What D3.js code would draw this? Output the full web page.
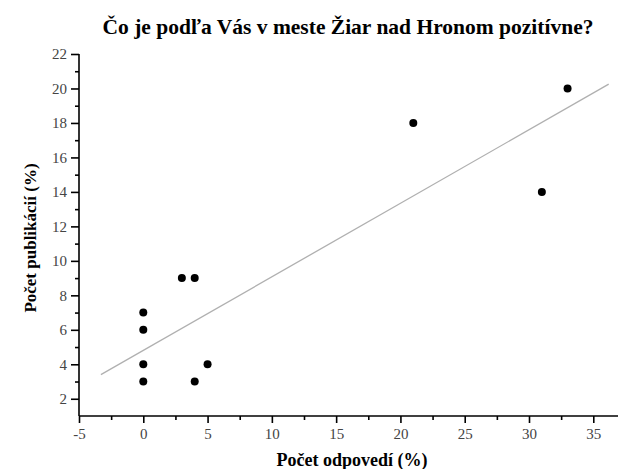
<!DOCTYPE html>
<html><head><meta charset="utf-8">
<script src="https://cdn.jsdelivr.net/npm/d3@7"></script>
<style>body{margin:0;background:#fff} svg text{font-family:"Liberation Serif","Times New Roman",serif !important}</style>
</head><body>
<svg id="c" width="618" height="469"></svg>
<script>
const xs = [0, 0, 0, 0, 5, 4, 3, 4, 21, 33, 31];
const ys = [7, 6, 4, 3, 4, 3, 9, 9, 18, 20, 14];
const fitX = [-3.3, 36.2];
const fitY = [3.4, 20.25];
const xTicks = [-5, 0, 5, 10, 15, 20, 25, 30, 35];
const yTicks = [2, 4, 6, 8, 10, 12, 14, 16, 18, 20, 22];
const title = "Čo je podľa Vás v meste Žiar nad Hronom pozitívne?";
const xTitle = "Počet odpovedí (%)";
const yTitle = "Počet publikácií (%)";

const svg = d3.select("#c");
const x = d3.scaleLinear().domain([-5, 37]).range([79, 619]);
const y = d3.scaleLinear().domain([1, 22]).range([416, 54]);
const fmt = d => String(d);

// regression line
svg.append("line")
  .attr("x1", x(fitX[0])).attr("y1", y(fitY[0]))
  .attr("x2", x(fitX[1])).attr("y2", y(fitY[1]))
  .attr("stroke", "#b0b0b0").attr("stroke-width", 1.3);

// points
svg.selectAll("circle.p").data(xs.map((v, i) => [v, ys[i]])).enter()
  .append("circle").attr("class", "p")
  .attr("cx", d => x(d[0])).attr("cy", d => y(d[1])).attr("r", 4)
  .attr("fill", "#000");

// axes
const xMinor = d3.range(-2.5, 37, 5);
const yMinor = d3.range(3, 22, 2);
const gx = svg.append("g").attr("transform", "translate(0,416)");
gx.call(d3.axisBottom(x).tickValues(xTicks).tickSize(7).tickPadding(5).tickFormat(fmt));
gx.append("g").call(d3.axisBottom(x).tickValues(xMinor).tickSize(4).tickFormat(""))
  .select(".domain").remove();
const gy = svg.append("g").attr("transform", "translate(79,0)");
gy.call(d3.axisLeft(y).tickValues(yTicks).tickSize(8).tickPadding(4).tickFormat(fmt));
gy.append("g").call(d3.axisLeft(y).tickValues(yMinor).tickSize(4).tickFormat(""))
  .select(".domain").remove();
svg.selectAll(".domain").attr("stroke", "#000").attr("stroke-width", 1.6);
svg.selectAll(".tick line").attr("stroke", "#000").attr("stroke-width", 1.6);
svg.selectAll(".tick text").attr("font-size", 15).attr("fill", "#444");
gx.select(".domain").attr("d", "M79,0H619");
gy.select(".domain").attr("d", "M0,54H0V416");

// titles
svg.append("text").attr("x", 348).attr("y", 34).attr("text-anchor", "middle")
  .attr("font-weight", "bold").attr("font-size", 21.5).text(title);
svg.append("text").attr("x", 352).attr("y", 466).attr("text-anchor", "middle")
  .attr("font-weight", "bold").attr("font-size", 18).text(xTitle);
svg.append("text").attr("transform", "translate(36,238) rotate(-90)").attr("text-anchor", "middle")
  .attr("font-weight", "bold").attr("font-size", 17).text(yTitle);
</script>
</body></html>
